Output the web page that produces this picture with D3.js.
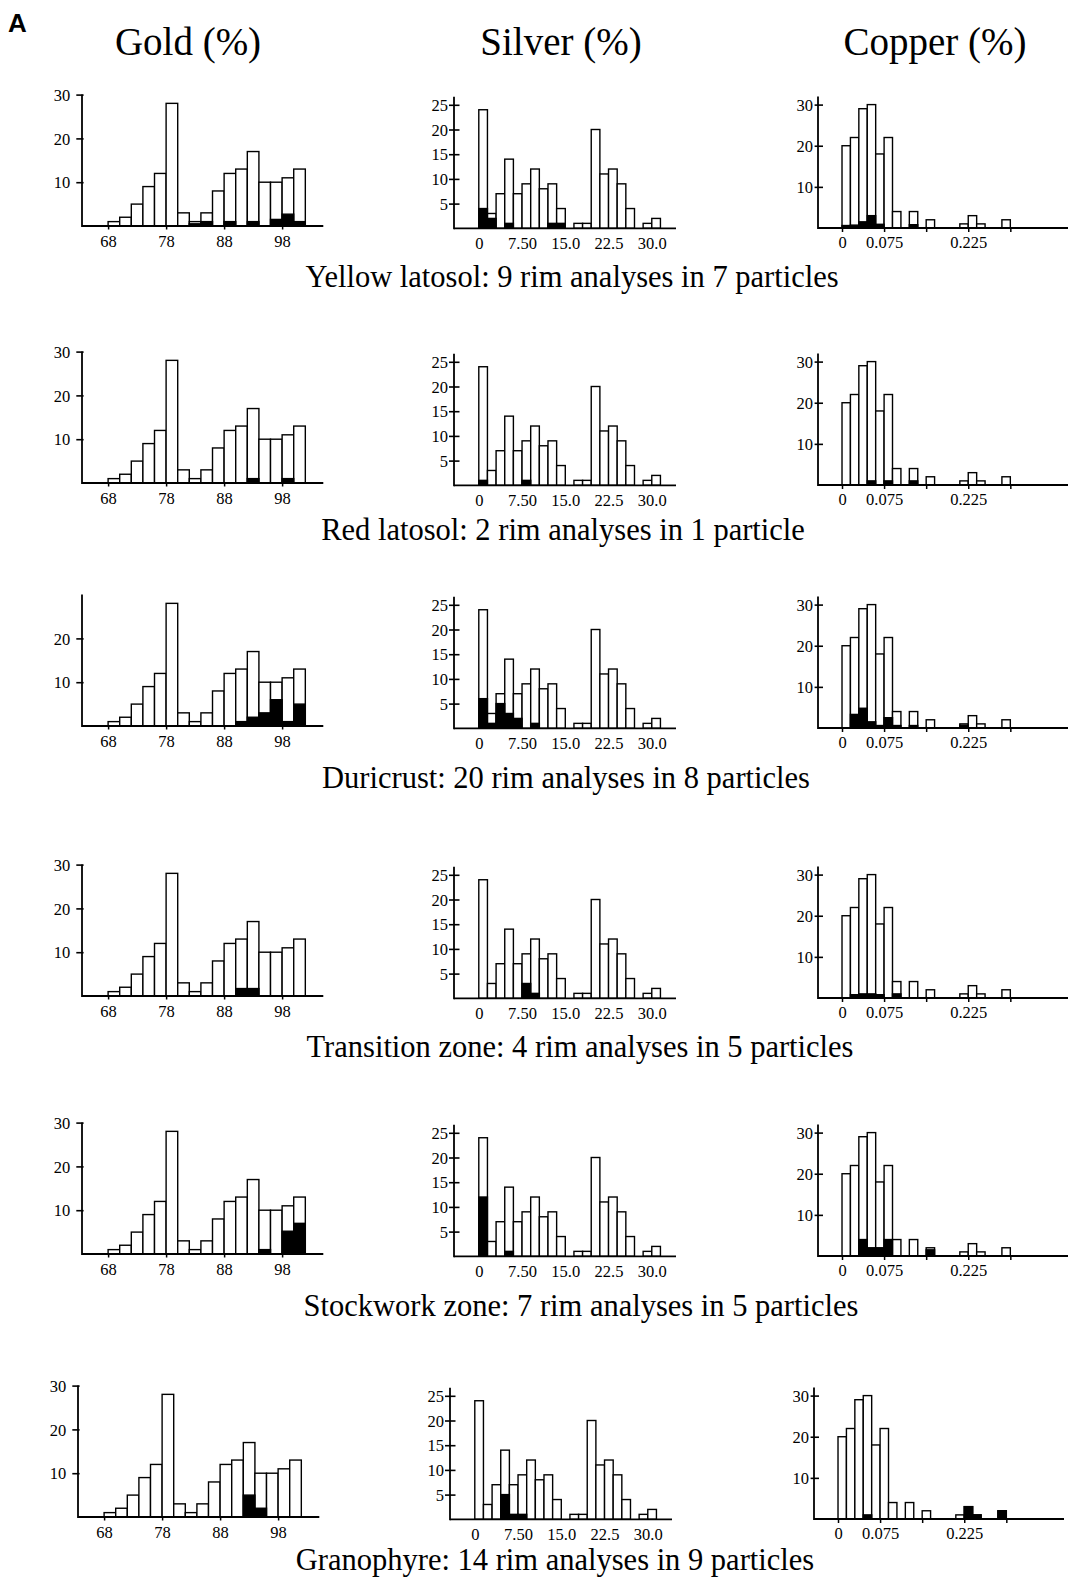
<!DOCTYPE html>
<html>
<head>
<meta charset="utf-8">
<script src="https://cdn.jsdelivr.net/npm/d3@7"></script>
<style>
  body { margin: 0; background: #fff; }
  svg { display: block; }
</style>
</head>
<body>
<svg id="svg"></svg>
<script>
// bin starts and the full population (white bars), same in every row
const goldBins = [68, 70, 72, 74, 76, 78, 80, 82, 84, 86, 88, 90, 92, 94, 96, 98, 100]
const goldTotal = [1, 2, 5, 9, 12, 28, 3, 1, 3, 8, 12, 13, 17, 10, 10, 11, 13]
const silverBins = [0, 1.5, 3, 4.5, 6, 7.5, 9, 10.5, 12, 13.5, 15, 16.5, 18, 19.5, 21, 22.5, 24, 25.5, 27, 28.5, 30]
const silverTotal = [24, 3, 7, 14, 7, 9, 12, 8, 9, 4, 0, 1, 1, 20, 11, 12, 9, 4, 0, 1, 2]
const copperBins = [0, 0.015, 0.03, 0.045, 0.06, 0.075, 0.09, 0.105, 0.12, 0.135, 0.15, 0.165, 0.18, 0.195, 0.21, 0.225, 0.24, 0.255, 0.27, 0.285]
const copperTotal = [20, 22, 29, 30, 18, 22, 4, 0, 4, 0, 2, 0, 0, 0, 1, 3, 1, 0, 0, 2]

const headings = ['Gold (%)', 'Silver (%)', 'Copper (%)']
const captions = [
  'Yellow latosol: 9 rim analyses in 7 particles',
  'Red latosol: 2 rim analyses in 1 particle',
  'Duricrust: 20 rim analyses in 8 particles',
  'Transition zone: 4 rim analyses in 5 particles',
  'Stockwork zone: 7 rim analyses in 5 particles',
  'Granophyre: 14 rim analyses in 9 particles'
]

// rim analyses (black bars), one row per zone
const goldRim = [
  [0, 0, 0, 0, 0, 0, 0, 0.5, 1, 0, 1, 0, 1, 0, 1.5, 2.7, 1],
  [0, 0, 0, 0, 0, 0, 0, 0, 0, 0, 0, 0, 1, 0, 0, 1, 0],
  [0, 0, 0, 0, 0, 0, 0, 0, 0, 0, 0, 1, 2, 3, 6, 1, 5],
  [0, 0, 0, 0, 0, 0, 0, 0, 0, 0, 0, 1.7, 1.7, 0, 0, 0, 0],
  [0, 0, 0, 0, 0, 0, 0, 0, 0, 0, 0, 0, 0, 1, 0, 5.2, 7],
  [0, 0, 0, 0, 0, 0, 0, 0, 0, 0, 0, 0, 5, 2, 0, 0, 0]
]
const silverRim = [
  [4, 2, 0, 1, 0, 0, 0, 0, 1, 1, 0, 0, 0, 0, 0, 0, 0, 0, 0, 0, 0],
  [1, 0, 0, 0, 0, 1, 0, 0, 0, 0, 0, 0, 0, 0, 0, 0, 0, 0, 0, 0, 0],
  [6, 1, 5, 3, 2, 0, 1, 0, 0, 0, 0, 0, 0, 0, 0, 0, 0, 0, 0, 0, 0],
  [0, 0, 0, 0, 0, 3, 1, 0, 0, 0, 0, 0, 0, 0, 0, 0, 0, 0, 0, 0, 0],
  [12, 0, 0, 1, 0, 0, 0, 0, 0, 0, 0, 0, 0, 0, 0, 0, 0, 0, 0, 0, 0],
  [0, 0, 0, 5, 1, 1, 0, 0, 0, 0, 0, 0, 0, 0, 0, 0, 0, 0, 0, 0, 0]
]
const copperRim = [
  [0.6, 0.7, 1.5, 3, 0.9, 0, 0, 0, 0.8, 0, 0, 0, 0, 0, 0, 0, 0, 0, 0, 0],
  [0, 0, 0, 1, 0, 1, 0, 0, 1, 0, 0, 0, 0, 0, 0, 0, 0, 0, 0, 0],
  [0, 3.3, 4.8, 1.5, 0.6, 2.5, 0.6, 0, 0.6, 0, 0, 0, 0, 0, 0.7, 0, 0, 0, 0, 0],
  [0, 0.8, 1, 1, 0.8, 0, 1, 0, 0, 0, 0, 0, 0, 0, 0, 0, 0, 0, 0, 0],
  [0, 0, 4, 2, 2, 4, 0, 0, 0, 0, 1.5, 0, 0, 0, 0, 0, 0, 0, 0, 0],
  [0, 0, 0, 1, 0, 0, 0, 0, 0, 0, 0, 0, 0, 0, 0, 3, 1, 0, 0, 2]
]

const goldXTicks = [68, 78, 88, 98]
const silverXTicks = [0, 7.5, 15, 22.5, 30]
const silverXLabels = ['0', '7.50', '15.0', '22.5', '30.0']
const copperXTicks = [0, 0.075, 0.15, 0.225, 0.3]
const copperXLabels = ['0', '0.075', '', '0.225', '']

// layout
var width = 1068, height = 1580
var serif = '"Liberation Serif", "Times New Roman", serif'
var tickFont = 16.5
var rowBase = [226, 483, 726, 996, 1254, 1517]
var rowShift = [0, 0, 0, 0, 0, -4]
var captionY = [287, 540, 788, 1057, 1316, 1570]
var captionX = [572, 563, 566, 580, 581, 555]

var metals = [
  {
    bins: goldBins, total: goldTotal, rim: goldRim, step: 2,
    axisX: 82, dy: 0,
    x: d3.scaleLinear().domain([63.5, 105.1]).range([0, 241.3]),
    y: d3.scaleLinear().domain([0, 30]).range([0, -131.4]),
    yTop: 30, yExtra: 0,
    yTicks: row => row === 2 ? [10, 20] : [10, 20, 30],
    tickL: 5.7, tickR: 1.6, yPad: 6,
    xTicks: goldXTicks, xFormat: d3.format('d'), xTickSize: 3.5, xPad: 5.8
  },
  {
    bins: silverBins, total: silverTotal, rim: silverRim, step: 1.5,
    axisX: 454, dy: 2.3,
    x: d3.scaleLinear().domain([-4.3, 34.2]).range([0, 222]),
    y: d3.scaleLinear().domain([0, 25]).range([0, -123.5]),
    yTop: 25, yExtra: 8,
    yTicks: row => [5, 10, 15, 20, 25],
    tickL: 5, tickR: 5.5, yPad: 1,
    xTicks: silverXTicks, xFormat: (d, i) => silverXLabels[i], xTickSize: 0, xPad: 8.5
  },
  {
    bins: copperBins, total: copperTotal, rim: copperRim, step: 0.015,
    axisX: 818, dy: 2,
    x: d3.scaleLinear().domain([-0.0428, 0.4028]).range([0, 250]),
    y: d3.scaleLinear().domain([0, 30]).range([0, -123.4]),
    yTop: 30, yExtra: 8,
    yTicks: row => [10, 20, 30],
    tickL: 3.4, tickR: 5, yPad: 1.5,
    xTicks: copperXTicks, xFormat: (d, i) => copperXLabels[i], xTickSize: 4, xPad: 4.5
  }
]

var svg = d3.select('#svg')
  .attr('width', width)
  .attr('height', height)
  .attr('viewBox', [0, 0, width, height])

svg.append('text')
  .attr('x', 8).attr('y', 32)
  .attr('font-family', '"Liberation Sans", Arial, sans-serif')
  .attr('font-weight', 'bold')
  .attr('font-size', 26)
  .text('A')

var headX = [188, 561, 935]
svg.selectAll('text.head')
  .data(headings)
  .join('text')
    .attr('class', 'head')
    .attr('x', (d, i) => headX[i])
    .attr('y', 55)
    .attr('text-anchor', 'middle')
    .attr('font-family', serif)
    .attr('font-size', 39)
    .text(d => d)

function drawPanel(g, m, row) {
  var x = m.x, y = m.y
  var data = m.bins.map((b, i) => ({b: b, n: m.total[i], r: m.rim[row][i]}))

  g.append('g')
    .selectAll('rect')
    .data(data.filter(d => d.n > 0))
    .join('rect')
      .attr('x', d => x(d.b))
      .attr('width', d => x(d.b + m.step) - x(d.b))
      .attr('y', d => y(d.n))
      .attr('height', d => y(0) - y(d.n))
      .attr('fill', '#fff')
      .attr('stroke', '#000')
      .attr('stroke-width', 1.4)

  g.append('g')
    .selectAll('rect')
    .data(data.filter(d => d.r > 0))
    .join('rect')
      .attr('x', d => x(d.b))
      .attr('width', d => x(d.b + m.step) - x(d.b))
      .attr('y', d => y(d.r))
      .attr('height', d => y(0) - y(d.r))
      .attr('fill', '#000')
      .attr('stroke', '#000')
      .attr('stroke-width', 1.4)

  var xAxis = d3.axisBottom(x)
    .tickValues(m.xTicks)
    .tickFormat(m.xFormat)
    .tickSize(m.xTickSize)
    .tickPadding(m.xPad)

  g.append('g')
    .call(xAxis)
    .call(a => a.select('.domain').remove())
    .call(a => a.selectAll('.tick line').attr('stroke-width', 1.5))
    .attr('font-family', serif)
    .attr('font-size', tickFont)

  var yAxis = d3.axisLeft(y)
    .tickValues(m.yTicks(row))
    .tickSize(m.tickL)
    .tickPadding(m.yPad)

  g.append('g')
    .call(yAxis)
    .call(a => a.select('.domain').remove())
    .call(a => a.selectAll('.tick line').attr('x1', m.tickR).attr('stroke-width', 1.6))
    .call(a => a.selectAll('.tick text').attr('dy', '0.34em'))
    .attr('font-family', serif)
    .attr('font-size', tickFont)

  var xr = x.range()
  g.append('line')
    .attr('x1', 0).attr('x2', xr[1])
    .attr('y1', y(0)).attr('y2', y(0))
    .attr('stroke', '#000').attr('stroke-width', 1.8)
  g.append('line')
    .attr('x1', 0).attr('x2', 0)
    .attr('y1', y(0) + 0.9).attr('y2', y(m.yTop) - m.yExtra)
    .attr('stroke', '#000').attr('stroke-width', 1.8)
}

rowBase.forEach((base, row) => {
  metals.forEach(m => {
    var g = svg.append('g')
      .attr('transform', `translate(${m.axisX + rowShift[row]},${base + m.dy})`)
    drawPanel(g, m, row)
  })

  svg.append('text')
    .attr('x', captionX[row])
    .attr('y', captionY[row])
    .attr('text-anchor', 'middle')
    .attr('font-family', serif)
    .attr('font-size', 30.5)
    .text(captions[row])
})
</script>
</body>
</html>
